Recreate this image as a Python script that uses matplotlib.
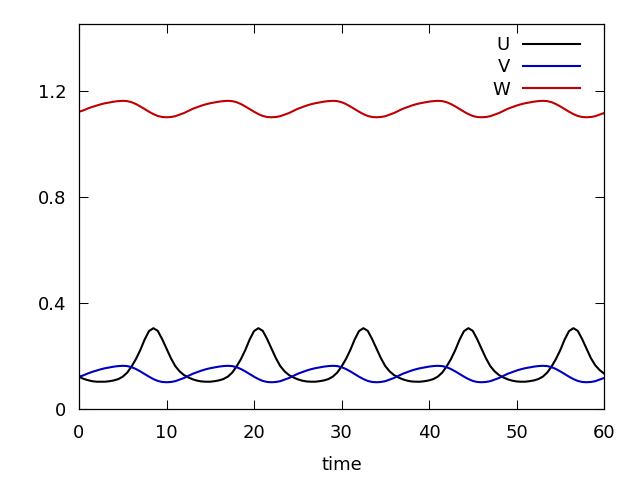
import numpy as np
import matplotlib
matplotlib.use("Agg")
import matplotlib.pyplot as plt

# time grid (step 0.5 from 0 to 60)
t_start, t_end, t_step = 0.0, 60.0, 0.5

U = [0.122, 0.114, 0.109, 0.105, 0.103,
     0.103, 0.103, 0.105, 0.108, 0.113, 0.122, 0.137, 0.160, 0.188, 0.222, 0.262, 0.294,
     0.305, 0.295, 0.264, 0.228, 0.192, 0.162, 0.142, 0.128, 0.119, 0.112, 0.107, 0.104,
     0.103, 0.103, 0.105, 0.108, 0.113, 0.122, 0.137, 0.160, 0.188, 0.222, 0.262, 0.294,
     0.305, 0.295, 0.264, 0.228, 0.192, 0.162, 0.142, 0.128, 0.119, 0.112, 0.107, 0.104,
     0.103, 0.103, 0.105, 0.108, 0.113, 0.122, 0.137, 0.160, 0.188, 0.222, 0.262, 0.294,
     0.305, 0.295, 0.264, 0.228, 0.192, 0.162, 0.142, 0.128, 0.119, 0.112, 0.107, 0.104,
     0.103, 0.103, 0.105, 0.108, 0.113, 0.122, 0.137, 0.160, 0.188, 0.222, 0.262, 0.294,
     0.305, 0.295, 0.264, 0.228, 0.192, 0.162, 0.142, 0.128, 0.119, 0.112, 0.107, 0.104,
     0.103, 0.103, 0.105, 0.108, 0.113, 0.122, 0.137, 0.160, 0.188, 0.222, 0.262, 0.294,
     0.305, 0.295, 0.264, 0.228, 0.192, 0.165, 0.147, 0.134]

V = [0.122, 0.127, 0.134, 0.140, 0.145,
     0.150, 0.154, 0.157, 0.160, 0.162, 0.163, 0.162, 0.158, 0.151, 0.142, 0.132, 0.122,
     0.113, 0.106, 0.102, 0.101, 0.102, 0.105, 0.111, 0.117, 0.125, 0.133, 0.139, 0.145,
     0.150, 0.154, 0.157, 0.160, 0.162, 0.163, 0.162, 0.158, 0.151, 0.142, 0.132, 0.122,
     0.113, 0.106, 0.102, 0.101, 0.102, 0.105, 0.111, 0.117, 0.125, 0.133, 0.139, 0.145,
     0.150, 0.154, 0.157, 0.160, 0.162, 0.163, 0.162, 0.158, 0.151, 0.142, 0.132, 0.122,
     0.113, 0.106, 0.102, 0.101, 0.102, 0.105, 0.111, 0.117, 0.125, 0.133, 0.139, 0.145,
     0.150, 0.154, 0.157, 0.160, 0.162, 0.163, 0.162, 0.158, 0.151, 0.142, 0.132, 0.122,
     0.113, 0.106, 0.102, 0.101, 0.102, 0.105, 0.111, 0.117, 0.125, 0.133, 0.139, 0.145,
     0.150, 0.154, 0.157, 0.160, 0.162, 0.163, 0.162, 0.158, 0.151, 0.142, 0.132, 0.122,
     0.113, 0.106, 0.102, 0.101, 0.102, 0.105, 0.111, 0.117]

W = [1.122, 1.127, 1.134, 1.140, 1.145,
     1.150, 1.154, 1.157, 1.160, 1.162, 1.163, 1.162, 1.158, 1.151, 1.142, 1.132, 1.122,
     1.113, 1.106, 1.102, 1.101, 1.102, 1.105, 1.111, 1.117, 1.125, 1.133, 1.139, 1.145,
     1.150, 1.154, 1.157, 1.160, 1.162, 1.163, 1.162, 1.158, 1.151, 1.142, 1.132, 1.122,
     1.113, 1.106, 1.102, 1.101, 1.102, 1.105, 1.111, 1.117, 1.125, 1.133, 1.139, 1.145,
     1.150, 1.154, 1.157, 1.160, 1.162, 1.163, 1.162, 1.158, 1.151, 1.142, 1.132, 1.122,
     1.113, 1.106, 1.102, 1.101, 1.102, 1.105, 1.111, 1.117, 1.125, 1.133, 1.139, 1.145,
     1.150, 1.154, 1.157, 1.160, 1.162, 1.163, 1.162, 1.158, 1.151, 1.142, 1.132, 1.122,
     1.113, 1.106, 1.102, 1.101, 1.102, 1.105, 1.111, 1.117, 1.125, 1.133, 1.139, 1.145,
     1.150, 1.154, 1.157, 1.160, 1.162, 1.163, 1.162, 1.158, 1.151, 1.142, 1.132, 1.122,
     1.113, 1.106, 1.102, 1.101, 1.102, 1.105, 1.111, 1.117]

series_names = ["U", "V", "W"]
x_ticks = [0, 10, 20, 30, 40, 50, 60]
y_ticks = [0, 0.4, 0.8, 1.2]
y_tick_labels = ["0", "0.4", "0.8", "1.2"]

t = np.arange(t_start, t_end + t_step / 2, t_step)

plt.rcParams['font.family'] = ['DejaVu Sans']
fig = plt.figure(figsize=(6.4, 4.8), dpi=100)
ax = fig.add_axes([79 / 640, 71 / 480, 525 / 640, 385 / 480])

colors = ["#000000", "#0000c0", "#c00000"]
for name, vals, c in zip(series_names, [U, V, W], colors):
    ax.plot(t, vals, color=c, lw=1.5, label=name, solid_joinstyle='round')

ax.set_xlim(0, 60)
ax.set_ylim(0, 1.453)
ax.set_xticks(x_ticks)
ax.set_xticklabels([str(v) for v in x_ticks])
ax.set_yticks(y_ticks)
ax.set_yticklabels(y_tick_labels)
ax.tick_params(direction='in', length=6.5, width=0.75, top=True, right=True,
               labelsize=13, colors='black')
ax.tick_params(axis='x', pad=11)
ax.tick_params(axis='y', pad=9)
for s in ax.spines.values():
    s.set_linewidth(0.9)
ax.set_xlabel("time", fontsize=13, labelpad=10)

ax.legend(loc='upper right', bbox_to_anchor=((580 - 79) / 525, 1 - 12 / 385),
          markerfirst=False, frameon=False, fontsize=13,
          handlelength=3.16, handletextpad=0.72, labelspacing=0.24,
          borderaxespad=0.0, borderpad=0.0)

fig.savefig("out.png", dpi=100)
